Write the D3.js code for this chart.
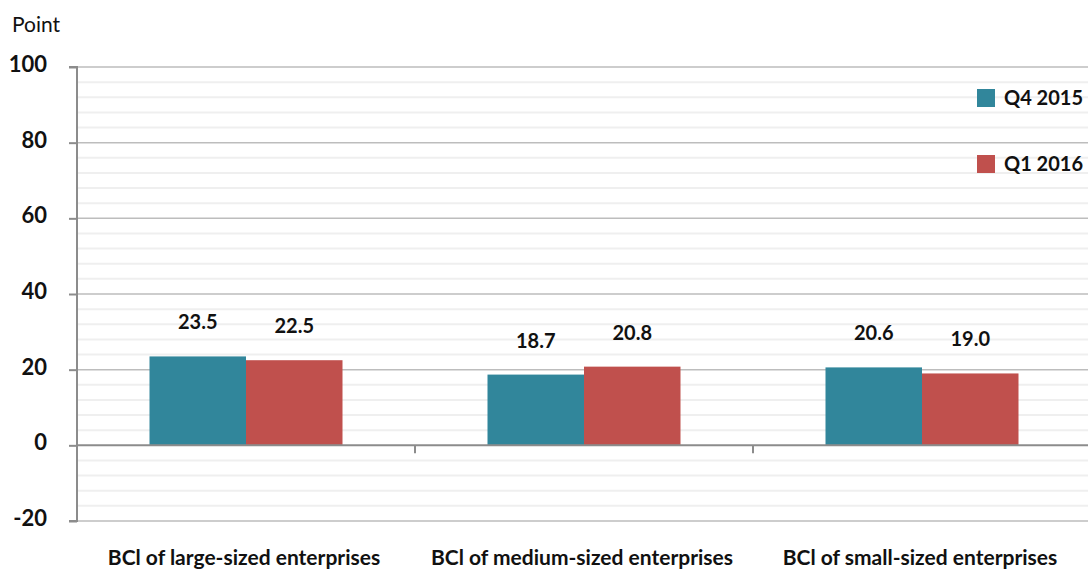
<!DOCTYPE html>
<html><head><meta charset="utf-8">
<script src="https://cdn.jsdelivr.net/npm/d3@7"></script>
<style>body{margin:0;background:#fff;} svg{display:block;font-family:Lato, sans-serif;}</style>
</head><body><svg id="c" width="1088" height="569"></svg>
<script>
const categories = ["BCl of large-sized enterprises","BCl of medium-sized enterprises","BCl of small-sized enterprises"];
const seriesNames = ["Q4 2015","Q1 2016"];
const q4_2015 = [23.5, 18.7, 20.6];
const q1_2016 = [22.5, 20.8, 19.0];
const yTicks = [-20, 0, 20, 40, 60, 80, 100];
const colors = ["#31869b", "#c0504d"];
const series = [q4_2015, q1_2016];

(function(){
const svg = d3.select("#c");
const mL = 77, mR = 1091, mT = 67, mB = 521;
const y = d3.scaleLinear().domain([-20, 100]).range([mB, mT]);
const x = d3.scaleBand().domain(categories).range([mL, mR]).paddingInner(0).paddingOuter(0);
const inner = d3.scaleBand().domain(seriesNames)
  .range([x.bandwidth()/2 - 96.5, x.bandwidth()/2 + 96.5]).padding(0);

const minor = d3.range(-20, 101, 4).filter(v => v % 20 !== 0);
svg.append("g").selectAll("line").data(minor).join("line")
  .attr("x1", mL).attr("x2", 1088).attr("y1", d => y(d)).attr("y2", d => y(d))
  .attr("stroke", "#efefef").attr("stroke-width", 2);
svg.append("g").selectAll("line").data(yTicks.filter(v => v !== 0)).join("line")
  .attr("x1", mL).attr("x2", 1088).attr("y1", d => y(d)).attr("y2", d => y(d))
  .attr("stroke", "#bdbdbd").attr("stroke-width", 1.5);

const g = svg.append("g");
series.forEach((s, i) => {
  g.selectAll(null).data(categories).join("rect")
    .attr("x", d => x(d) + inner(seriesNames[i]))
    .attr("width", inner.bandwidth())
    .attr("y", (d, j) => y(Math.max(0, s[j])))
    .attr("height", (d, j) => Math.abs(y(s[j]) - y(0)))
    .attr("fill", colors[i]);
  g.selectAll(null).data(categories).join("text")
    .attr("x", d => x(d) + inner(seriesNames[i]) + inner.bandwidth()/2)
    .attr("y", (d, j) => y(s[j]) - 27)
    .attr("text-anchor", "middle")
    .attr("font-size", 20).attr("font-weight", "bold").attr("fill", "#111")
    .text((d, j) => s[j].toFixed(1));
});

svg.append("line").attr("x1", mL).attr("x2", 1088).attr("y1", y(0)).attr("y2", y(0))
  .attr("stroke", "#8c8c8c").attr("stroke-width", 2);

const yAxis = d3.axisLeft(y).tickValues(yTicks).tickSize(8).tickPadding(22).tickFormat(d => String(d));
const ya = svg.append("g").attr("transform", `translate(${mL},0)`).call(yAxis);
ya.select(".domain").attr("stroke", "#8c8c8c").attr("stroke-width", 2).attr("d", `M-8,${mT}H0V${mB}H-8`);
ya.selectAll(".tick line").attr("stroke", "#8c8c8c").attr("stroke-width", 2);
ya.selectAll(".tick text").attr("font-size", 22).attr("font-weight", "bold").attr("fill", "#111").attr("font-family", "Lato, sans-serif").attr("dy", "0.2em");

svg.append("g").selectAll("line").data(categories.slice(1)).join("line")
  .attr("x1", d => x(d)).attr("x2", d => x(d)).attr("y1", y(0)).attr("y2", y(0) + 8)
  .attr("stroke", "#8c8c8c").attr("stroke-width", 2);

svg.append("g").selectAll("text").data(categories).join("text")
  .attr("x", d => x(d) + x.bandwidth()/2 - 2).attr("y", 565)
  .attr("text-anchor", "middle").attr("font-size", 21).attr("font-weight", "bold").attr("fill", "#111")
  .text(d => d);

svg.append("text").attr("x", 12).attr("y", 32).attr("font-size", 21).attr("fill", "#111").text("Point");

const lg = svg.append("g");
seriesNames.forEach((n, i) => {
  const yy = 89 + i * 66;
  lg.append("rect").attr("x", 977).attr("y", yy).attr("width", 18).attr("height", 18).attr("fill", colors[i]);
  lg.append("text").attr("x", 1004).attr("y", yy + 16).attr("font-size", 20).attr("font-weight", "bold").attr("fill", "#111").text(n);
});
})();
</script></body></html>
